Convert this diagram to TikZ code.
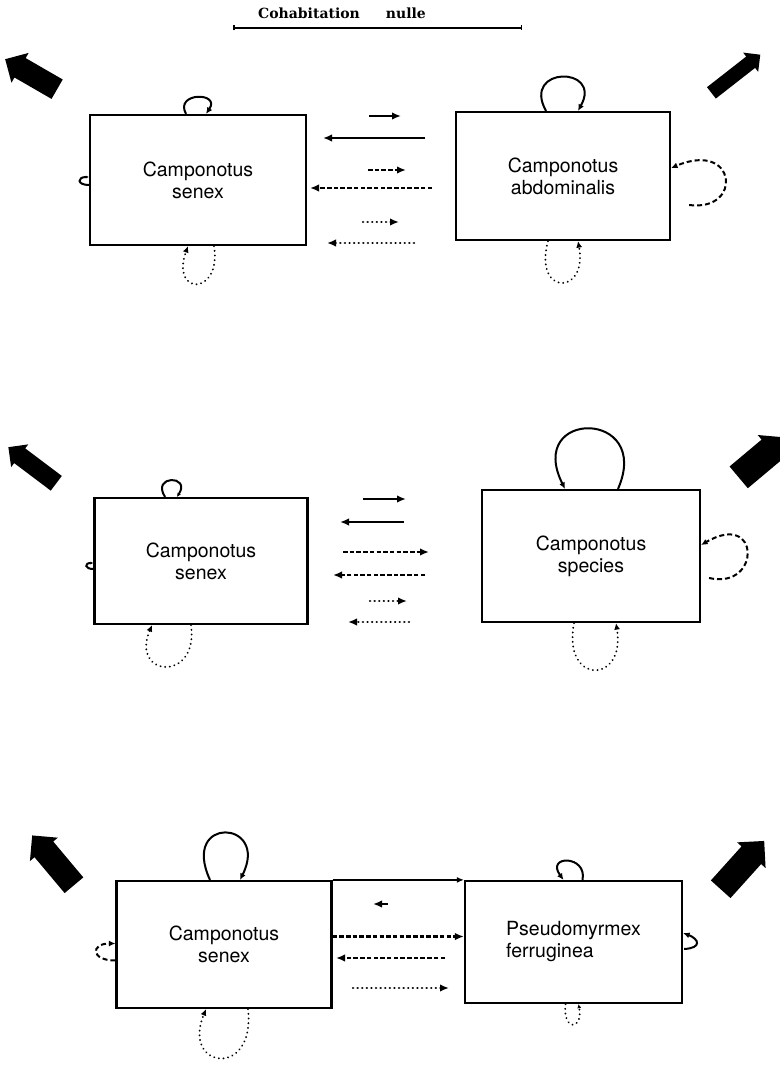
\documentclass[tikz,border=0pt]{standalone}
\usepackage{fontspec}
\setsansfont{TeX Gyre Heros}
\newfontfamily\titlefont{DejaVu Serif}
\usetikzlibrary{positioning,arrows.meta,shapes.arrows,calc}

\begin{document}
\begin{tikzpicture}[x=1pt,y=1pt,
    antbox/.style 2 args={draw,line width=2.2pt,minimum width=#1,minimum height=#2,
      inner sep=0pt,align=center,font=\sffamily\fontsize{19.5}{22}\selectfont},
    flow/.style={line width=2.5pt,-{Latex[length=9pt,width=7.5pt]}},
    flowdash/.style={flow,dash pattern=on 4.5pt off 2.2pt},
    flowdot/.style={flow,line cap=round,dash pattern=on 0.1pt off 4.5pt},
    loopline/.style={line width=2pt,-{Latex[length=6.5pt,width=6pt]}},
    loopdash/.style={loopline,dash pattern=on 5pt off 3pt},
    loopdot/.style={loopline,line cap=round,dash pattern=on 0.1pt off 4.6pt},
    bigarrow/.style={single arrow,fill=black,inner sep=0pt,single arrow head extend=#1}]
  \useasboundingbox (0,0) rectangle (779,-1070);

  % title
  \node[font=\titlefont\bfseries\fontsize{14}{16}\selectfont] (title) at (342,-13) {Cohabitation\hspace{26pt}nulle};
  \coordinate (bar l) at (233,-28);
  \coordinate (bar r) at (522,-28);
  \draw[line width=1.5pt,{Bar[width=5pt]}-{Bar[width=5pt]}] (bar l) -- (bar r);

  % first pair
  \node[bigarrow=6pt,minimum height=60,inner ysep=11pt,rotate=150] (ba1) at (36,-77) {};
  \node[bigarrow=5pt,minimum height=62,inner ysep=7pt,rotate=38] (ba2) at (733,-76) {};
  \node[antbox={216}{130}] (senexA) at (198,-180) {Camponotus\\senex};
  \node[antbox={214}{128}] (abdo) at (563,-176) {Camponotus\\abdominalis};
  \draw[loopline] ([xshift=-12]senexA.north) .. controls +(-12,22) and +(15,22) .. ([xshift=8]senexA.north);
  \draw[loopline,-{Latex[length=3pt,width=3pt]}] ([yshift=-5]senexA.west) .. controls +(-12,0) and +(-12,0) .. ([yshift=3]senexA.west);
  \draw[loopdot] ([xshift=16]senexA.south) .. controls +(8,-50) and +(-18,-50) .. ([xshift=-10]senexA.south);
  \draw[loopline] ([xshift=-17]abdo.north) .. controls +(-25,45) and +(25,45) .. ([xshift=15]abdo.north);
  \draw[loopdash] ([xshift=18,yshift=-29]abdo.east) .. controls +(54,-7) and +(66,28) .. ([yshift=8]abdo.east);
  \draw[loopdot] ([xshift=-15]abdo.south) .. controls +(-15,-55) and +(10,-55) .. ([xshift=15]abdo.south);
  \foreach \n/\xa/\xb/\y/\st in {1/369/401/116/flow,2/425/323/138/flow,3/368/406/170/flowdash,
      4/432/310/188/flowdash,5/363/399/222/flowdot,6/414/327/243/flowdot}{
    \coordinate (p\n a) at (\xa,-\y);
    \coordinate (p\n b) at (\xb,-\y);
    \draw[\st] (p\n a) -- (p\n b);
  }

  % second pair
  \node[bigarrow=5pt,minimum height=60,inner ysep=9pt,rotate=143] (ba3) at (36,-468) {};
  \node[bigarrow=6pt,minimum height=62,inner ysep=14pt,rotate=40] (ba4) at (757,-462) {};
  \node[antbox={213}{126}] (senexB) at (201,-561) {Camponotus\\senex};
  \node[antbox={218}{132}] (spec) at (591,-556) {Camponotus\\species};
  \draw[loopline,-{Latex[length=4pt,width=4pt]}] ([xshift=-36]senexB.north) .. controls +(-14,22) and +(14,22) .. ([xshift=-24]senexB.north);
  \draw[loopline,-{Latex[length=3pt,width=3pt]}] ([yshift=-8]senexB.west) .. controls +(-9,0) and +(-9,0) .. ([yshift=-2]senexB.west);
  \draw[loopdot] ([xshift=-10]senexB.south) .. controls +(8,-58) and +(-22,-52) .. ([xshift=-49]senexB.south);
  \draw[loopline] ([xshift=27]spec.north) .. controls +(35,80) and +(-40,80) .. ([xshift=-26]spec.north);
  \draw[loopdash] ([xshift=8,yshift=-22]spec.east) .. controls +(52,-12) and +(60,35) .. ([yshift=11]spec.east);
  \draw[loopdot] ([xshift=-17]spec.south) .. controls +(-12,-62) and +(10,-62) .. ([xshift=25]spec.south);
  \foreach \n/\xa/\xb/\y/\st in {1/363/406/499/flow,2/404/340/522/flow,3/343/429/552/flowdash,
      4/425/333/575/flowdash,5/370/407/601/flowdot,6/409/348/622/flowdot}{
    \coordinate (q\n a) at (\xa,-\y);
    \coordinate (q\n b) at (\xb,-\y);
    \draw[\st] (q\n a) -- (q\n b);
  }

  % third pair
  \node[bigarrow=6pt,minimum height=65,inner ysep=12pt,rotate=130] (ba5) at (57,-865) {};
  \node[bigarrow=6pt,minimum height=65,inner ysep=13pt,rotate=48] (ba6) at (738,-870) {};
  \node[antbox={215}{127}] (senexC) at (224,-944.5) {Camponotus\\senex};
  \node[antbox={217}{122},align=left] (pseudo) at (573.5,-942) {Pseudomyrmex\\ferruginea};
  \draw[flow,line width=2pt,-{Latex[length=7pt,width=6pt]}] (senexC.north east) -- (senexC.north east -| pseudo.west);
  \draw[loopline] ([xshift=-14]senexC.north) .. controls +(-30,65) and +(30,60) .. ([xshift=16]senexC.north);
  \draw[loopdash] ([yshift=-16]senexC.west) .. controls +(-25,0) and +(-25,0) .. ([yshift=1]senexC.west);
  \draw[loopdot] ([xshift=24]senexC.south) .. controls +(8,-70) and +(-25,-60) .. ([xshift=-18]senexC.south);
  \draw[loopline] ([xshift=9]pseudo.north) .. controls +(5,25) and +(-18,25) .. ([xshift=-10]pseudo.north);
  \draw[loopline] ([xshift=1,yshift=-7]pseudo.east) .. controls +(18,1) and +(16,-6) .. ([yshift=9]pseudo.east);
  \draw[loopdot,-{Latex[length=4pt,width=4pt]}] ([xshift=-8]pseudo.south) .. controls +(-3,-28) and +(5,-26) .. ([xshift=5]pseudo.south);
  \coordinate (r1a) at (388,-904);
  \coordinate (r1b) at (373,-904);
  \draw[flow] (r1a) -- (r1b);
  \draw[flowdash] ([yshift=8]senexC.east) -- ([yshift=8]senexC.east -| pseudo.west);
  \coordinate (r3a) at (445,-958);
  \coordinate (r3b) at (336,-958);
  \draw[flowdash] (r3a) -- (r3b);
  \coordinate (r4a) at (353,-988);
  \coordinate (r4b) at (449,-988);
  \draw[flowdot] (r4a) -- (r4b);
\end{tikzpicture}
\end{document}
